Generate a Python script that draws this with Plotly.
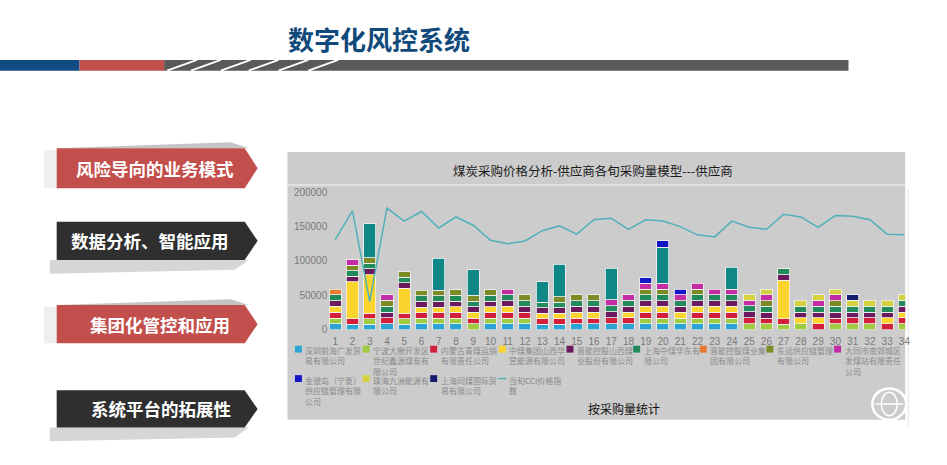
import plotly.graph_objects as go

W, H = 947, 465

# ---------------- data ----------------
periods = [1, 2, 3, 4, 5, 6, 7, 8, 9, 10, 11, 12, 13, 14, 15, 16, 17,
           18, 19, 20, 21, 22, 23, 24, 25, 26, 27, 28, 29, 30, 31, 32, 33, 34]

shenzhen = [8400, 8000, 8000, 8500, 8000, 8200, 8200, 8300, 0, 8300, 8400, 8400, 8000, 8000, 8400, 8400, 8700,
            8500, 8400, 8400, 8400, 8400, 8400, 8400, 0, 0, 0, 0, 0, 0, 0, 0, 0, 0]
ningbo = [8400, 0, 8000, 0, 8000, 8200, 8200, 8300, 8300, 8300, 8400, 8400, 0, 0, 0, 0, 0,
          0, 8400, 8400, 8400, 8400, 8400, 8400, 8600, 8400, 8000, 8500, 0, 8400, 8500, 8500, 0, 8500]
neimenggu = [8400, 8000, 8000, 8500, 8000, 8200, 8200, 8300, 8300, 8300, 8400, 8400, 8000, 8000, 8400, 8400, 8700,
             8500, 8400, 8400, 0, 8400, 8400, 8400, 8600, 8400, 8000, 0, 8500, 8400, 8500, 8500, 8500, 8500]
zhongmei_sx = [8400, 54000, 56000, 0, 36000, 8200, 8200, 8300, 8300, 8300, 8400, 0, 8000, 8000, 8400, 8400, 0,
               8500, 8400, 8400, 8400, 8400, 8400, 8400, 0, 0, 56000, 8500, 8500, 0, 0, 0, 8500, 8500]
jinneng_sx = [8400, 8000, 8500, 8500, 8000, 8200, 8200, 8300, 8300, 8300, 8400, 8400, 8000, 8000, 8400, 8400, 8700,
              8500, 8400, 8400, 8400, 8400, 8400, 8400, 8600, 8400, 8000, 8500, 8500, 8400, 8500, 8500, 8500, 8500]
shanghai_hd = [8400, 8000, 8000, 8500, 8000, 8200, 8200, 8300, 8300, 8300, 8400, 8400, 8000, 8000, 8400, 8400, 8700,
               8500, 8400, 8400, 8400, 8400, 8400, 8400, 8600, 8400, 8500, 8500, 8500, 8400, 8500, 8500, 8500, 8500]
jinneng_jt = [8400, 0, 0, 0, 0, 0, 0, 0, 0, 0, 0, 0, 0, 0, 0, 0, 0,
              0, 0, 0, 0, 0, 0, 0, 0, 0, 0, 0, 0, 0, 0, 0, 0, 0]
dongyuan = [0, 8000, 8000, 8500, 8000, 8200, 8200, 8300, 8300, 8300, 0, 8400, 0, 8000, 8400, 8400, 0,
            0, 8400, 8400, 0, 8400, 0, 0, 0, 8400, 0, 0, 0, 8400, 0, 0, 0, 0]
datong = [0, 8000, 0, 8500, 0, 0, 0, 0, 0, 0, 8400, 0, 0, 0, 0, 0, 8700,
          8500, 8400, 8400, 8400, 8400, 8400, 8400, 8600, 8400, 0, 0, 8500, 8400, 0, 0, 0, 0]
other_teal = [0, 0, 50000, 0, 0, 0, 46600, 0, 37000, 0, 0, 0, 30000, 47000, 0, 0, 45500,
              0, 0, 53000, 0, 0, 0, 32000, 0, 0, 0, 0, 0, 0, 0, 0, 0, 0]
jinyindao = [0, 0, 0, 0, 0, 0, 0, 0, 0, 0, 0, 0, 0, 0, 0, 0, 0,
             0, 8400, 9500, 8400, 0, 0, 0, 0, 0, 0, 0, 0, 0, 0, 0, 0, 0]
zhuhai = [0, 0, 0, 0, 0, 0, 0, 0, 0, 0, 0, 0, 0, 0, 0, 0, 0,
          0, 0, 0, 0, 0, 0, 0, 8600, 8400, 0, 8500, 8500, 8400, 8500, 8500, 8500, 8500]
shanghai_tm = [0, 0, 0, 0, 0, 0, 0, 0, 0, 0, 0, 0, 0, 0, 0, 0, 0,
               0, 0, 0, 0, 0, 0, 0, 0, 0, 0, 0, 0, 0, 8500, 0, 0, 0]
cci_index = [131000, 173000, 41000, 177000, 158000, 172000, 148000, 164000, 152000, 130000, 125000, 129000,
             144000, 151000, 139000, 160000, 162000, 146000, 160000, 158000, 150000, 138000, 135000, 158000,
             149000, 146000, 168000, 164000, 149000, 166000, 165000, 160000, 139000, 138000]

y_ticks = [0, 50000, 100000, 150000, 200000]
y_tick_text = ["0", "50000", "100000", "150000", "200000"]

series = [
    ("深圳前海广发贸易有限公司", "深圳前海广发贸<br>易有限公司", shenzhen, "#2aa4d5"),
    ("宁波大榭开发区世纪鑫源煤炭有限公司", "宁波大榭开发区<br>世纪鑫源煤炭有<br>限公司", ningbo, "#9fcb3e"),
    ("内蒙古青煤运销有限责任公司", "内蒙古青煤运销<br>有限责任公司", neimenggu, "#d21f3c"),
    ("中煤集团山西华昱能源有限公司", "中煤集团山西华<br>昱能源有限公司", zhongmei_sx, "#fbd42e"),
    ("晋能控股山西煤业股份有限公司", "晋能控股山西煤<br>业股份有限公司", jinneng_sx, "#6b1a5e"),
    ("上海中煤华东有限公司", "上海中煤华东有<br>限公司", shanghai_hd, "#238a5c"),
    ("晋能控股煤业集团有限公司", "晋能控股煤业集<br>团有限公司", jinneng_jt, "#e57a30"),
    ("东远供应链管理有限公司", "东远供应链管理<br>有限公司", dongyuan, "#7d8b26"),
    ("大同市南郊城区发煤站有限责任公司", "大同市南郊城区<br>发煤站有限责任<br>公司", datong, "#c42ca6"),
    ("其他", None, other_teal, "#0f8787"),
    ("金银岛（宁夏）供应链管理有限公司", "金银岛（宁夏）<br>供应链管理有限<br>公司", jinyindao, "#1515c8"),
    ("珠海九洲能源有限公司", "珠海九洲能源有<br>限公司", zhuhai, "#d3d23e"),
    ("上海同煤国际贸易有限公司", "上海同煤国际贸<br>易有限公司", shanghai_tm, "#121d6e"),
]
cci_name = "当旬CCI价格指数"
cci_label = "当旬CCI价格指<br>数"
cci_color = "#50b0b8"


def px(x):
    return x / W


def py(y):
    return 1 - y / H


fig = go.Figure()
for name, _, vals, color in series:
    fig.add_trace(go.Bar(
        x=periods, y=[v if v else None for v in vals], name=name,
        width=0.7, marker=dict(color=color, line=dict(color="#f2f2f2", width=0.8)),
        showlegend=False,
    ))
fig.add_trace(go.Scatter(
    x=periods, y=cci_index, name=cci_name, mode="lines",
    line=dict(color=cci_color, width=1.5), showlegend=False,
))

# plot area in pixels
L, R = 330, 910
B, T = 333, 190
c1, step = 337, 17.34
x_lo = 1 + (L - c1) / step
x_hi = 1 + (R - c1) / step
y_hi = (B - T) / 0.0007

tick_font = dict(family="Liberation Sans, Arial, sans-serif", size=10, color="#7a7a7a")
fig.update_layout(
    width=W, height=H, margin=dict(l=0, r=0, t=0, b=0),
    paper_bgcolor="white", plot_bgcolor="rgba(0,0,0,0)",
    barmode="stack", bargap=0.3,
    xaxis=dict(domain=[px(L), px(R)], range=[x_lo, x_hi], tickmode="array",
               tickvals=periods, ticktext=[str(p) for p in periods], ticklabelstandoff=4,
               showgrid=False, zeroline=False, showline=False, tickfont=tick_font, ticks=""),
    yaxis=dict(domain=[py(B), py(T)], range=[0, y_hi], tickmode="array",
               tickvals=y_ticks, ticktext=y_tick_text,
               showgrid=False, zeroline=False, showline=False, tickfont=tick_font, ticks=""),
    font=dict(family="Noto Sans CJK SC"),
)

shapes = []
annos = []


def rect(x0, y0, x1, y1, color, layer="below"):
    shapes.append(dict(type="rect", xref="paper", yref="paper", x0=px(x0), x1=px(x1),
                       y0=py(y1), y1=py(y0), fillcolor=color, line=dict(width=0), layer=layer))


def line(x0, y0, x1, y1, color, width, layer="below"):
    shapes.append(dict(type="line", xref="paper", yref="paper", x0=px(x0), x1=px(x1),
                       y0=py(y0), y1=py(y1), line=dict(color=color, width=width), layer=layer))


def poly(points, color, layer="below"):
    d = "M " + " L ".join(f"{px(a):.5f},{py(b):.5f}" for a, b in points) + " Z"
    shapes.append(dict(type="path", xref="paper", yref="paper", path=d,
                       fillcolor=color, line=dict(width=0), layer=layer))


def text(x, y, s, size, color, xanchor="center", yanchor="middle", bold=False, align="center",
         family="Noto Sans CJK SC"):
    annos.append(dict(x=px(x), y=py(y), xref="paper", yref="paper", text=s, showarrow=False,
                      xanchor=xanchor, yanchor=yanchor, align=align,
                      font=dict(family=family, size=size, color=color,
                                weight="bold" if bold else "normal")))


# ---- slide header ----
text(381, 36, "数字化风控系统", 26, "#0f4a7b", bold=True)
rect(0, 58, 80, 69, "#114b82")
rect(80, 58, 165, 69, "#c1504c")
rect(165, 58, 853, 69, "#5a5a5a")
for sx in [168, 192, 222, 250, 280, 310]:
    line(sx, 69, sx + 30, 58, "white", 2)

# ---- left arrow labels ----
boxes = [
    (148, 189, "#c24f4c", "风险导向的业务模式", 156, "top"),
    (223, 262, "#2f2f2f", "数据分析、智能应用", 151, "bottom"),
    (308, 347, "#c24f4c", "集团化管控和应用", 161, "top"),
    (395, 433, "#2f2f2f", "系统平台的拓展性", 162, "bottom"),
]
for y0, y1, col, label, cx, shadow in boxes:
    if shadow == "top":
        poly([(57, y0), (232, y0 - 6), (250, y0)], "#c4c4c4")
        rect(44, y0 + 2, 57, y1, "#efefef")
    else:
        poly([(50, y1), (250, y1), (236, y1 + 10), (50, y1 + 14)], "#d6d6d6")
    poly([(57, y0), (246, y0), (259, (y0 + y1) / 2), (246, y1), (57, y1)], col)
    text(cx, (y0 + y1) / 2, label, 17.5, "white", bold=True)

# ---- chart panel ----
rect(289, 152, 910, 425, "#cccccc")
line(289, 185.5, 910, 185.5, "#e9e9e9", 1.5)
line(913, 190, 913, 432, "#e2e2e2", 1)
text(596, 171, "煤炭采购价格分析-供应商各旬采购量模型---供应商", 12.5, "#1a1a1a")
text(627, 414, "按采购量统计", 12, "#111111")

# globe mark
shapes.append(dict(type="circle", xref="paper", yref="paper", x0=px(877), x1=px(911),
                   y0=py(425), y1=py(393), line=dict(color="white", width=2.5), layer="above"))
shapes.append(dict(type="circle", xref="paper", yref="paper", x0=px(886), x1=px(902),
                   y0=py(421), y1=py(397), line=dict(color="white", width=1.5), layer="above"))
line(880, 409, 908, 409, "white", 1.5, layer="above")

# ---- legend (manual) ----
row1_x = [300, 368, 436, 505, 573, 640, 707, 774, 842]
row2_x = [300, 368, 436, 505]
legend_items = [s for s in series if s[1] is not None]
positions = [(x, 353) for x in row1_x] + [(x, 383) for x in row2_x[:3]]
for (name, lab, vals, color), (lx, ly) in zip(legend_items, positions):
    rect(lx - 3.5, ly - 3.5, lx + 3.5, ly + 3.5, color, layer="above")
    text(lx + 5, ly - 6, lab, 8, "#8a8a8a", xanchor="left", yanchor="top", align="left")
lx, ly = row2_x[3], 383
line(lx - 4, ly, lx + 4, ly, cci_color, 1.5, layer="above")
text(lx + 5, ly - 6, cci_label, 8, "#8a8a8a", xanchor="left", yanchor="top", align="left")

fig.update_layout(shapes=shapes, annotations=annos)
fig.write_html("out.html", config={"displayModeBar": False},
               post_script="document.body.style.margin='0';")
